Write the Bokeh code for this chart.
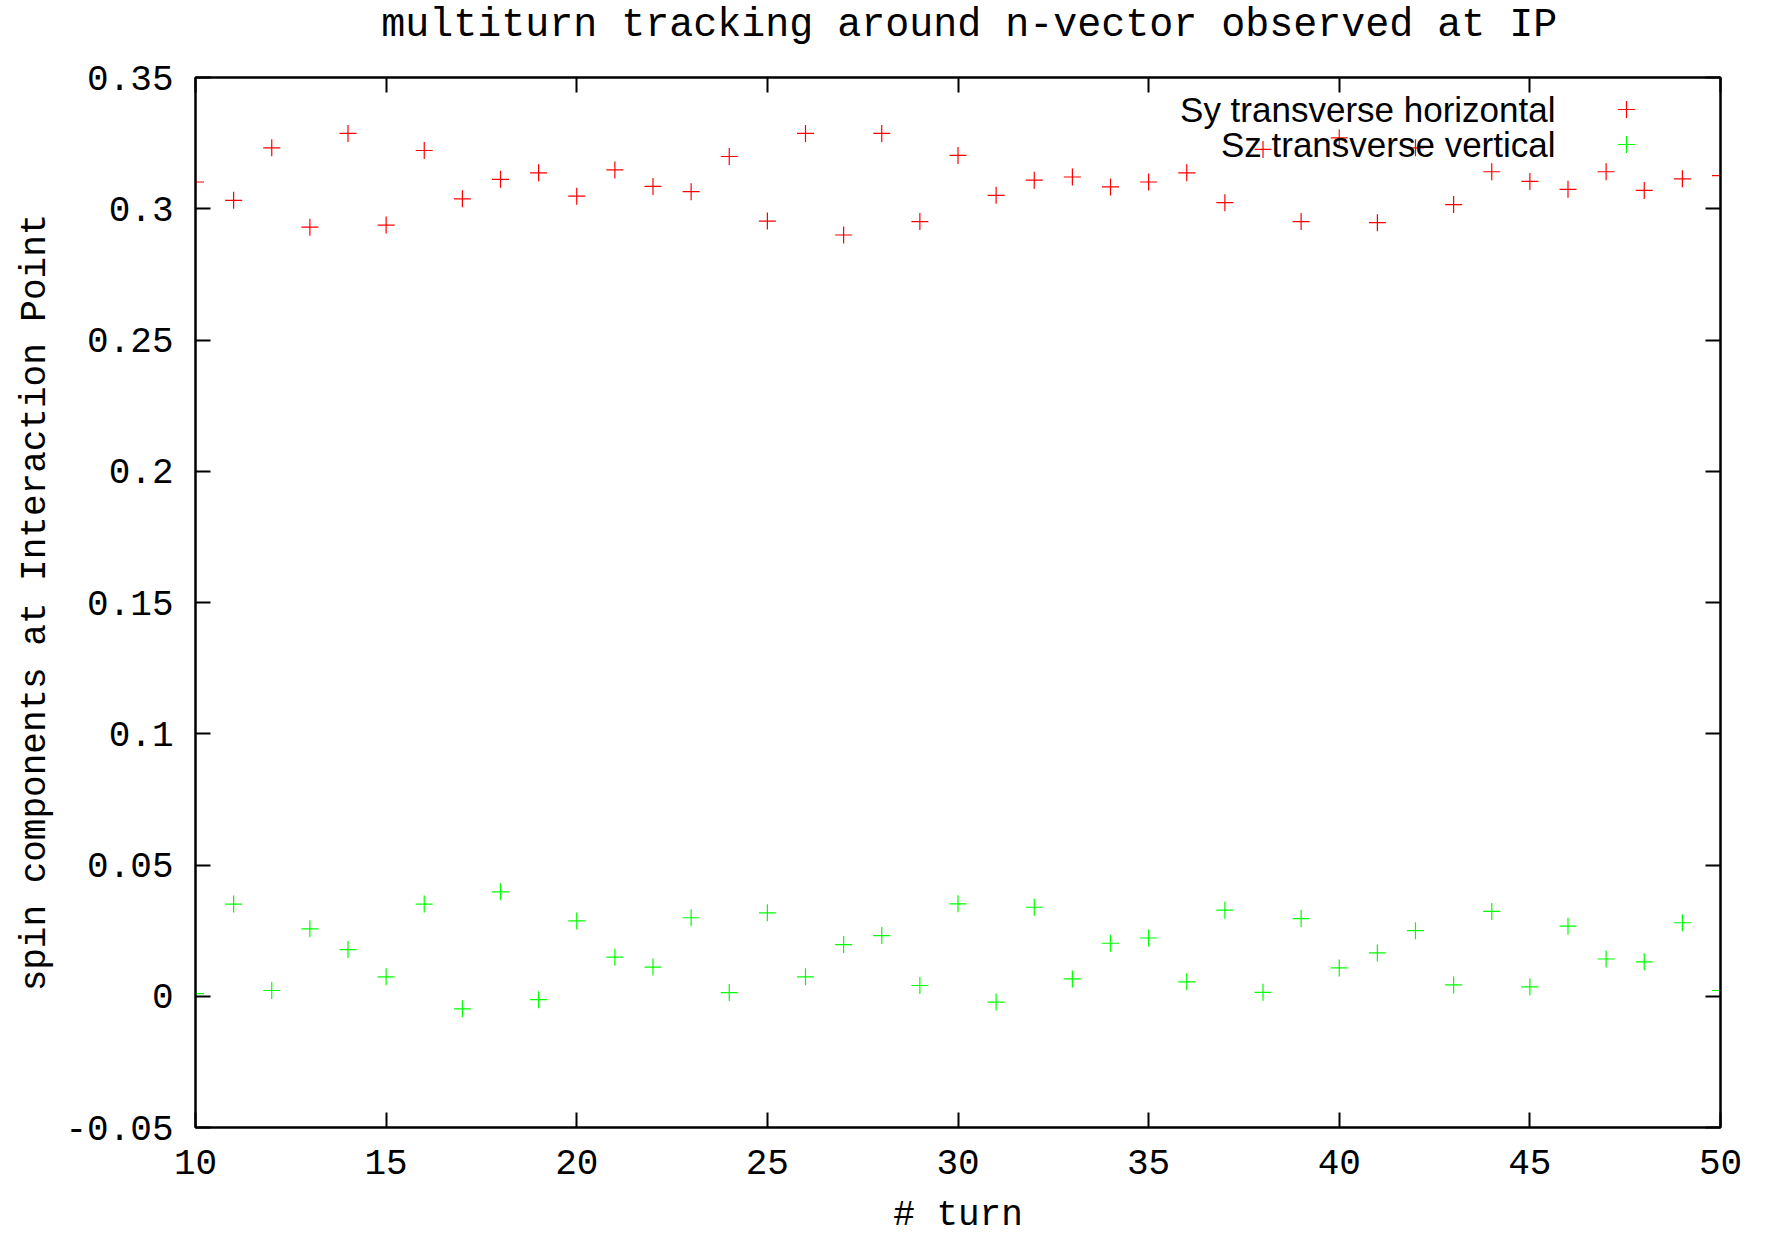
from bokeh.plotting import figure
from bokeh.models import LinearAxis, FixedTicker, Label, Range1d
from bokeh.layouts import column
from bokeh.core.properties import value
from bokeh.embed import file_html
from bokeh.resources import INLINE

# ---- data ----
turns = list(range(10, 51))
sy_horizontal = [0.3102, 0.3032, 0.3232, 0.2930, 0.3287, 0.2938, 0.3222, 0.3038, 0.3112, 0.3137,
                 0.3048, 0.3148, 0.3085, 0.3065, 0.3199, 0.2953, 0.3287, 0.2900, 0.3287,
                 0.2951, 0.3203, 0.3051, 0.3109, 0.3121, 0.3083, 0.3102, 0.3137, 0.3023, 0.3226,
                 0.2951, 0.3270, 0.2947, 0.3232, 0.3016, 0.3141, 0.3104, 0.3074, 0.3141, 0.3070,
                 0.3114, 0.3126]
sz_vertical = [0.0010, 0.0351, 0.0022, 0.0257, 0.0178, 0.0074, 0.0351, -0.0048, 0.0398, -0.0013,
               0.0287, 0.0149, 0.0111, 0.0299, 0.0014, 0.0318, 0.0074, 0.0197, 0.0231,
               0.0041, 0.0352, -0.0022, 0.0339, 0.0066, 0.0202, 0.0222, 0.0055, 0.0328, 0.0015,
               0.0296, 0.0108, 0.0165, 0.0250, 0.0043, 0.0323, 0.0036, 0.0267, 0.0142, 0.0131,
               0.0280, 0.0022]
x_ticks = [10, 15, 20, 25, 30, 35, 40, 45, 50]
y_ticks = [-0.05, 0.0, 0.05, 0.1, 0.15, 0.2, 0.25, 0.3, 0.35]
y_tick_labels = ["-0.05", "0", "0.05", "0.1", "0.15", "0.2", "0.25", "0.3", "0.35"]
series_labels = ["Sy transverse horizontal", "Sz transverse vertical"]
title_text = "multiturn tracking around n-vector observed at IP"
x_label = "# turn"
y_label = "spin components at Interaction Point"

# ---- layout (pixels of the 1766x1238 page) ----
W, H = 1766, 1238
TH = 60                      # height of the title strip
FL, FR, FT, FB = 195, 1720, 77, 1127
XMIN, XMAX, YMIN, YMAX = 10, 50, -0.05, 0.35
MONO = "Liberation Mono"
TITLE_CX, TITLE_BASE = 896, 25   # title anchor inside the strip (data = pixels)

def px_to_x(px):
    return XMIN + (px - FL) / (FR - FL) * (XMAX - XMIN)

def py_to_y(py):
    return YMAX - (py - FT) / (FB - FT) * (YMAX - YMIN)

# ---- title strip ----
t = figure(width=W, height=TH, output_backend="svg", toolbar_location=None,
           x_range=Range1d(0, W), y_range=Range1d(0, TH),
           x_axis_type=None, y_axis_type=None, min_border=0,
           min_border_left=0, min_border_right=0, min_border_top=0, min_border_bottom=0,
           background_fill_color="white", border_fill_color="white")
t.grid.visible = False
t.outline_line_color = None
t.text(x=[TITLE_CX], y=[TH - TITLE_BASE], text=[title_text], text_align="center",
       text_baseline="alphabetic", text_font=value(MONO), text_font_size=value("40px"),
       text_color="black")

# ---- main plot ----
p = figure(width=W, height=H - TH, output_backend="svg", toolbar_location=None,
           x_range=Range1d(XMIN, XMAX), y_range=Range1d(YMIN, YMAX),
           min_border_left=FL, min_border_right=W - FR,
           min_border_top=FT - TH, min_border_bottom=H - FB,
           background_fill_color="white", border_fill_color="white")
p.grid.visible = False
p.outline_line_color = "black"
p.outline_line_width = 2

def style_axis(ax, ticks, show_labels):
    ax.ticker = FixedTicker(ticks=ticks)
    ax.major_tick_in = 15
    ax.major_tick_out = 0
    ax.minor_tick_line_color = None
    ax.major_tick_line_color = "black"
    ax.major_tick_line_width = 2
    ax.axis_line_color = "black"
    ax.axis_line_width = 2
    if show_labels:
        ax.major_label_text_font = MONO
        ax.major_label_text_font_size = "36px"
        ax.major_label_text_color = "black"
        ax.axis_label_text_font = MONO
        ax.axis_label_text_font_size = "36px"
        ax.axis_label_text_font_style = "normal"
        ax.axis_label_text_color = "black"
    else:
        ax.major_label_overrides = {t_: "" for t_ in ticks}
        ax.major_label_text_font_size = "1px"
        ax.major_label_standoff = 0

xax = p.xaxis[0]
style_axis(xax, x_ticks, True)
xax.axis_label = x_label
xax.major_label_standoff = 22
xax.axis_label_standoff = 18

yax = p.yaxis[0]
style_axis(yax, y_ticks, True)
yax.major_label_overrides = {t_: s for t_, s in zip(y_ticks, y_tick_labels)}
yax.axis_label = y_label
yax.major_label_standoff = 22
yax.axis_label_standoff = 6

ax_top = LinearAxis()
style_axis(ax_top, x_ticks, False)
p.add_layout(ax_top, "above")
ax_right = LinearAxis()
style_axis(ax_right, y_ticks, False)
p.add_layout(ax_right, "right")

colors = ["#ff0000", "#00ff00"]
p.scatter(turns, sy_horizontal, marker="cross", size=17, line_color=colors[0], line_width=1.2)
p.scatter(turns, sz_vertical, marker="cross", size=17, line_color=colors[1], line_width=1.2)

# ---- legend (text right-aligned, symbol to the right), positioned in pixels ----
legend_rows_px = [109, 144]
for lab, col, ry in zip(series_labels, colors, legend_rows_px):
    p.add_layout(Label(x=px_to_x(1555), y=py_to_y(ry), text=lab, text_align="right",
                       text_baseline="middle", text_font="Liberation Sans",
                       text_font_size="35px", text_color="black"))
    p.scatter([px_to_x(1626)], [py_to_y(ry)], marker="cross", size=17,
              line_color=col, line_width=1.2)

layout = column(t, p, spacing=0)
open("out.html", "w").write(file_html(layout, INLINE))
